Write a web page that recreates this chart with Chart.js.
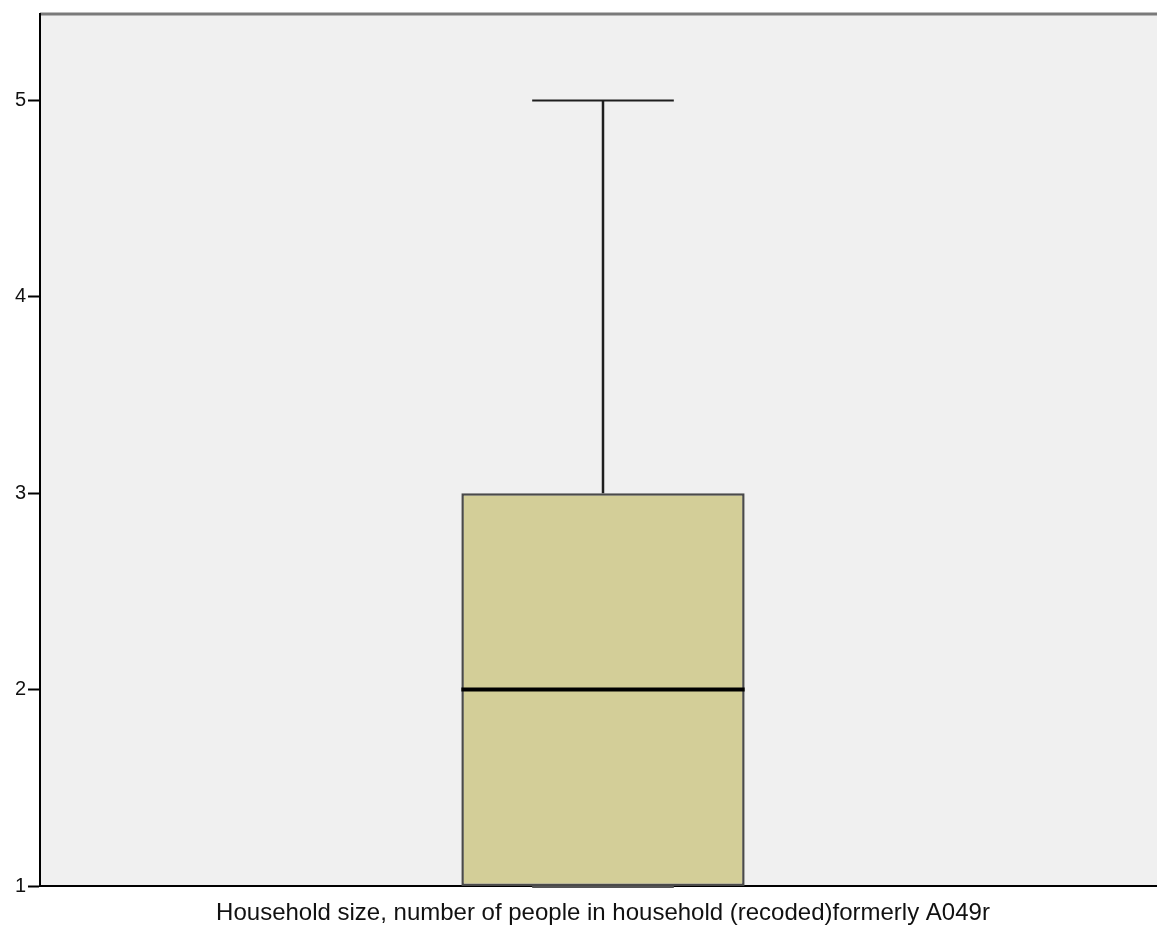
<!DOCTYPE html>
<html>
<head>
<meta charset="utf-8">
<script src="https://cdn.jsdelivr.net/npm/chart.js@4.4.1/dist/chart.umd.min.js"></script>
<style>
    html, body { margin: 0; padding: 0; background: #ffffff; overflow: hidden; }
    #wrap { width: 1166px; height: 931px; }
</style>
</head>
<body>
<div id="wrap"><canvas id="boxChart"></canvas></div>
<script>
// data
const categories = [""];
const minValues = [1];
const q1Values = [1];
const medianValues = [2];
const q3Values = [3];
const maxValues = [5];
const yTicks = [1, 2, 3, 4, 5];
const axisTitle = "Household size, number of people in household (recoded)formerly A049r";

const ctx = document.getElementById("boxChart").getContext("2d");

// grey plot background + top frame
const plotBackground = {
    id: "plotBackground",
    beforeDraw(chart) {
        const { ctx, chartArea } = chart;
        ctx.save();
        ctx.fillStyle = "#f0f0f0";
        ctx.fillRect(chartArea.left, chartArea.top, chartArea.right - chartArea.left, chartArea.bottom - chartArea.top);
        ctx.strokeStyle = "#7a7a7a";
        ctx.lineWidth = 3;
        ctx.beginPath();
        ctx.moveTo(chartArea.left, chartArea.top);
        ctx.lineTo(chartArea.right, chartArea.top);
        ctx.stroke();
        ctx.restore();
    }
};

// whiskers and median on top of the box
const boxExtras = {
    id: "boxExtras",
    afterDatasetsDraw(chart) {
        const { ctx } = chart;
        const y = chart.scales.y;
        const meta = chart.getDatasetMeta(0);
        meta.data.forEach((bar, i) => {
            const x = bar.x;
            const half = bar.width / 2;
            const cap = bar.width / 4;
            ctx.save();
            // upper whisker
            ctx.strokeStyle = "#1e1e1e";
            ctx.lineWidth = 2.5;
            ctx.beginPath();
            ctx.moveTo(x, y.getPixelForValue(q3Values[i]));
            ctx.lineTo(x, y.getPixelForValue(maxValues[i]));
            ctx.stroke();
            ctx.lineWidth = 2;
            ctx.beginPath();
            ctx.moveTo(x - cap, y.getPixelForValue(maxValues[i]));
            ctx.lineTo(x + cap, y.getPixelForValue(maxValues[i]));
            ctx.stroke();
            // lower whisker
            ctx.beginPath();
            ctx.moveTo(x, y.getPixelForValue(q1Values[i]));
            ctx.lineTo(x, y.getPixelForValue(minValues[i]));
            ctx.stroke();
            ctx.strokeStyle = "#555555";
            ctx.beginPath();
            ctx.moveTo(x - cap, y.getPixelForValue(minValues[i]) + 1);
            ctx.lineTo(x + cap, y.getPixelForValue(minValues[i]) + 1);
            ctx.stroke();
            // median
            ctx.strokeStyle = "#000000";
            ctx.lineWidth = 4;
            ctx.beginPath();
            ctx.moveTo(x - half, y.getPixelForValue(medianValues[i]));
            ctx.lineTo(x + half, y.getPixelForValue(medianValues[i]));
            ctx.stroke();
            ctx.restore();
        });
    }
};

const chart = new Chart(ctx, {
    type: "bar",
    data: {
        labels: categories,
        datasets: [
            {
                data: q1Values.map((q1, i) => [q1, q3Values[i]]),
                backgroundColor: "#d3ce98",
                borderColor: "#4a4a4a",
                borderWidth: 2.5,
                borderSkipped: false,
                barPercentage: 0.2516,
                categoryPercentage: 1,
            }
        ]
    },
    options: {
        responsive: true,
        maintainAspectRatio: false,
        animation: false,
        layout: { padding: { top: 14, right: 0, left: 0, bottom: 0 } },
        plugins: {
            legend: { display: false },
            tooltip: { enabled: false },
        },
        scales: {
            x: {
                grid: { display: false, drawTicks: false },
                border: { color: "#000000", width: 2 },
                ticks: { display: false },
                title: {
                    display: true,
                    text: axisTitle,
                    color: "#111111",
                    font: { family: "'Liberation Sans', Arial, sans-serif", size: 24 },
                    padding: { top: 0, bottom: 3 },
                },
                afterFit(scale) {
                    scale.height = 45;
                },
            },
            y: {
                min: 1,
                max: 5.44,
                grid: {
                    drawOnChartArea: false,
                    tickLength: 12,
                    tickColor: "#000000",
                    tickWidth: 2,
                },
                border: { color: "#000000", width: 2 },
                ticks: {
                    color: "#111111",
                    padding: 2,
                    font: { family: "'Liberation Sans', Arial, sans-serif", size: 20 },
                },
                afterBuildTicks(scale) {
                    scale.ticks = yTicks.map(v => ({ value: v }));
                },
                afterFit(scale) {
                    scale.width = 40;
                },
            }
        }
    },
    plugins: [plotBackground, boxExtras],
});
</script>
</body>
</html>
